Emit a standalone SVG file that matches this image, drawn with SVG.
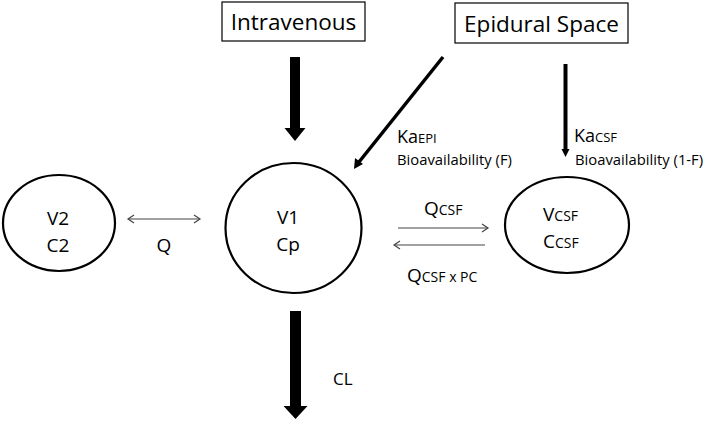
<svg xmlns="http://www.w3.org/2000/svg" width="709" height="421" viewBox="0 0 709 421">
<defs>
<style>
text{font-family:"Open Sans","Liberation Sans",sans-serif;fill:#000}
.box{fill:#fff;stroke:#000;stroke-width:1.2}
.comp{fill:#fff;stroke:#000;stroke-width:2.2}
.thin{stroke:#444;stroke-width:1.2;fill:none}
.chev{stroke:#444;stroke-width:1.2;fill:none}
.lbl{font-size:19px;text-anchor:middle}
</style>
</defs>
<rect width="709" height="421" fill="#fff"/>
<g id="intravenous">
<rect class="box" x="222" y="2" width="143" height="39"/>
<text x="293.5" y="30" font-size="22.5" text-anchor="middle">Intravenous</text>
</g>
<g id="epidural">
<rect class="box" x="455" y="3" width="173" height="40"/>
<text x="541.5" y="32" font-size="22.5" text-anchor="middle">Epidural Space</text>
</g>
<g id="v2">
<ellipse class="comp" cx="59" cy="223" rx="56" ry="48"/>
<text class="lbl" x="58" y="225">V2</text>
<text class="lbl" x="58" y="252">C2</text>
</g>
<g id="v1">
<ellipse class="comp" cx="293.5" cy="228" rx="68" ry="65"/>
<text class="lbl" x="288" y="224">V1</text>
<text class="lbl" x="288" y="251">Cp</text>
</g>
<g id="vcsf">
<ellipse class="comp" cx="567" cy="225" rx="62" ry="48"/>
<text x="543" y="221" font-size="19">V<tspan font-size="14">CSF</tspan></text>
<text x="543" y="248" font-size="19">C<tspan font-size="14">CSF</tspan></text>
</g>
<g id="connectors">
<rect x="290" y="57" width="10" height="72" fill="#000"/>
<polygon points="284.5,128 305.5,128 295,141" fill="#000"/>
<line x1="443" y1="57" x2="359" y2="162" stroke="#000" stroke-width="3.5"/>
<polygon points="354,169 355,158 363,164" fill="#000"/>
<line x1="565.5" y1="64" x2="565.5" y2="150" stroke="#000" stroke-width="4"/>
<polygon points="561.5,149 569.5,149 565.5,157" fill="#000"/>
<line class="thin" x1="128" y1="219" x2="200" y2="219"/>
<polyline class="chev" points="134,215 128,219 134,223"/>
<polyline class="chev" points="194,215 200,219 194,223"/>
<line class="thin" x1="398" y1="228" x2="488" y2="228"/>
<polyline class="chev" points="482,224 488,228 482,232"/>
<line class="thin" x1="394" y1="245" x2="485" y2="245"/>
<polyline class="chev" points="400,241 394,245 400,249"/>
<rect x="290" y="311" width="11" height="97" fill="#000"/>
<polygon points="283.5,406 307.5,406 295.5,419" fill="#000"/>
</g>
<g id="labels">
<text x="164" y="252" font-size="19" text-anchor="middle">Q</text>
<text x="397" y="143" font-size="18">Ka<tspan font-size="13">EPI</tspan></text>
<text x="397" y="165" font-size="14.8">Bioavailability (F)</text>
<text x="574" y="142" font-size="18">Ka<tspan font-size="13">CSF</tspan></text>
<text x="575" y="165" font-size="14.8">Bioavailability (1-F)</text>
<text x="424" y="215" font-size="19">Q<tspan font-size="14">CSF</tspan></text>
<text x="407" y="282" font-size="19">Q<tspan font-size="14">CSF x PC</tspan></text>
<text x="333" y="385" font-size="17">CL</text>
</g>
</svg>
